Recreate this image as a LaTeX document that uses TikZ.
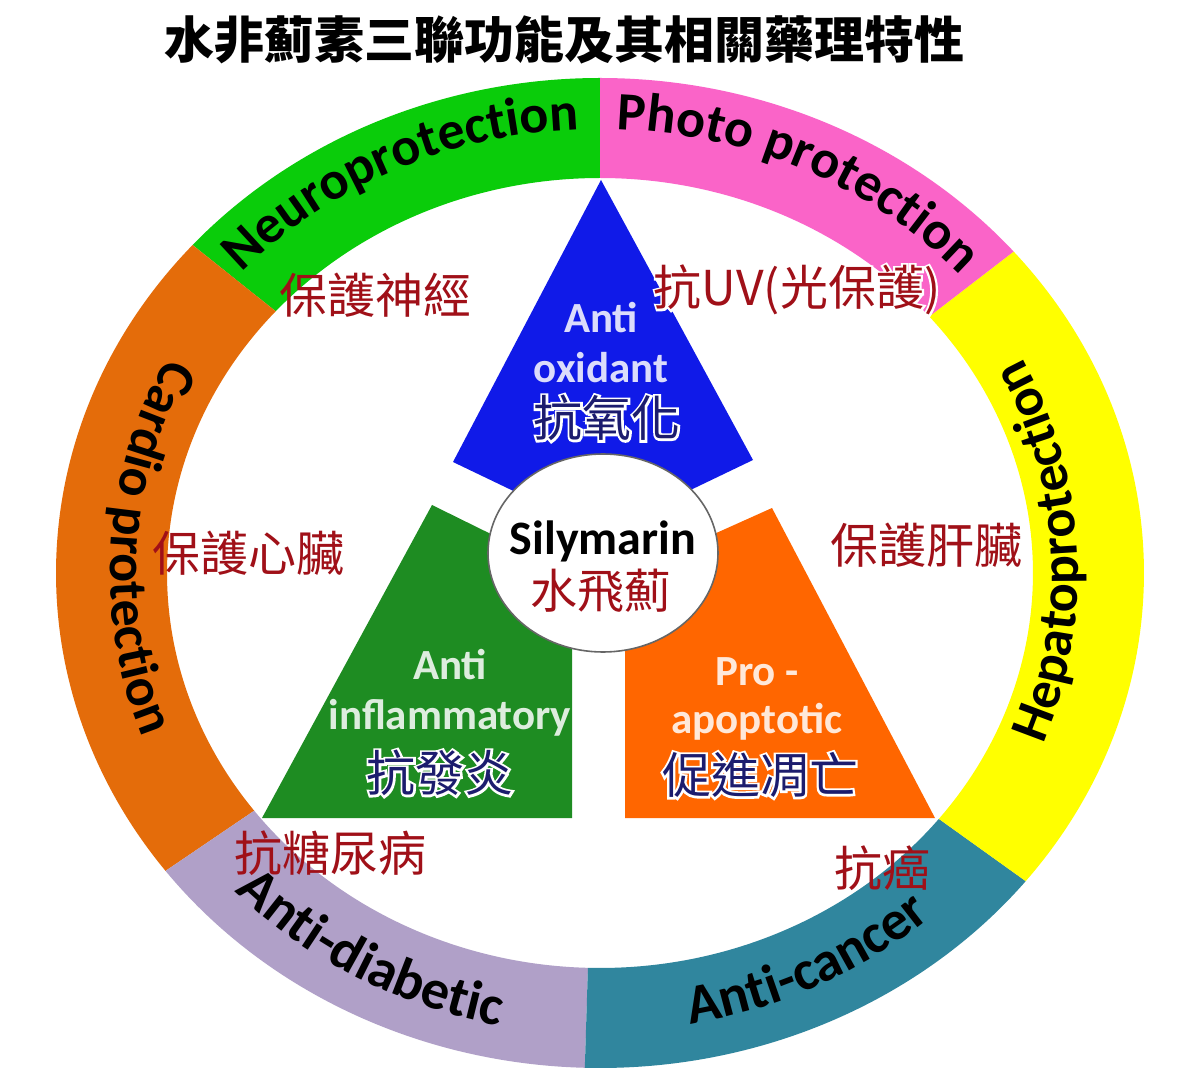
\documentclass[tikz,border=0pt]{standalone}
\usepackage{fontspec}
\setmainfont{Carlito}
\newfontfamily\cjk{Noto Sans CJK TC}
\newfontfamily\cjkalone[FakeBold=9]{Noto Sans CJK TC}
\usetikzlibrary{calc,shapes.geometric,decorations.text}

\definecolor{verdeanello}{RGB}{10,204,10}
\definecolor{rosa}{RGB}{250,100,200}
\definecolor{giallo}{RGB}{255,255,0}
\definecolor{ottanio}{RGB}{48,134,158}
\definecolor{lilla}{RGB}{176,160,200}
\definecolor{arancioanello}{RGB}{228,108,10}
\definecolor{blutri}{RGB}{16,26,232}
\definecolor{verdetri}{RGB}{30,140,34}
\definecolor{aranciotri}{RGB}{255,102,0}
\definecolor{rosso}{RGB}{160,16,24}
\definecolor{blunotte}{RGB}{28,28,110}

\newcommand{\ringfont}{\bfseries\fontsize{27pt}{27pt}\selectfont}
\newcommand{\ringfontb}{\bfseries\fontsize{28pt}{28pt}\selectfont}

% testo con bordo bianco
\newcommand{\contorno}[5]{%
  \node[text=white, font=\cjkalone\fontsize{#4}{#4}\selectfont] (#1-bordo) at (#2) {#5};
  \node[text=#3, font=\cjk\fontsize{#4}{#4}\selectfont] (#1) at (#2) {#5};
}

\begin{document}
\begin{tikzpicture}[x=0.5pt, y=0.5pt,
    every node/.style={inner sep=0pt},
    rossolab/.style={text=rosso, font=\cjk\fontsize{24pt}{24pt}\selectfont},
    bianco/.style={text=white, text opacity=0.85, font=\bfseries\fontsize{21.5pt}{21.5pt}\selectfont},
    lungo/.style={decorate, decoration={text along path, text align=center, text={|\ringfont|#1}}},
    lungob/.style={decorate, decoration={text along path, text align=center, text={|\ringfontb|#1}}}]
  \useasboundingbox[fill=white] (0,0) rectangle (1200,1078);
  \coordinate (O) at (600,505);

  % Titolo
  \node[font=\cjk\bfseries\fontsize{25pt}{25pt}\selectfont] (titolo) at (564,1038) {水非薊素三聯功能及其相關藥理特性};

  % Anello esterno
  \foreach \col/\da/\a in {verdeanello/90/138.5, arancioanello/138.5/217, lilla/217/268.4,
                            ottanio/268.4/321.5, giallo/321.5/400.5, rosa/400.5/450}
    \fill[\col] ($(O)+(\da:544 and 495)$) arc[start angle=\da, end angle=\a, x radius=544, y radius=495]
      -- ($(O)+(\a:433 and 395)$) arc[start angle=\a, end angle=\da, x radius=433, y radius=395] -- cycle;

  \path[lungo=Neuroprotection] ($(O)+(140:486 and 444)$) arc[start angle=140, end angle=90, x radius=486, y radius=444];
  \path[lungo=Photo protection] ($(O)+(90:486 and 444)$) arc[start angle=90, end angle=40, x radius=486, y radius=444];
  \path[lungo=Hepatoprotection] ($(O)+(-27:478 and 459)$) arc[start angle=-27, end angle=33, x radius=478, y radius=459];
  \path[lungo=Cardio protection] ($(O)+(150:490 and 459)$) arc[start angle=150, end angle=203, x radius=490, y radius=459];
  \path[lungob=Anti-diabetic] ($(O)+(222:504 and 462)$) arc[start angle=222, end angle=260, x radius=504, y radius=462];
  \path[lungob=Anti-cancer] ($(O)+(278:500 and 459)$) arc[start angle=278, end angle=314, x radius=500, y radius=459];

  % Triangoli
  \fill[blutri] (601,898) -- (753,618) -- (601,545) -- (453,616) -- cycle;
  \fill[verdetri] (432,573) -- (572,504) -- (572,260) -- (262,260) -- cycle;
  \fill[aranciotri] (772,570) -- (935,260) -- (625,260) -- (625,504) -- cycle;

  % Centro
  \node[ellipse, draw=black!60, line width=0.8pt, fill=white, minimum width=115pt, minimum height=99pt] (centro) at (603,525) {};
  \node[font=\bfseries\fontsize{24pt}{24pt}\selectfont] (sily) at (603,537) {Silymarin};
  \node[rossolab, font=\cjk\fontsize{23.5pt}{23.5pt}\selectfont] (shuifeiji) at (601,487) {水飛薊};

  % Etichette nei triangoli
  \node[bianco] (anti1) at (601,760) {Anti};
  \node[bianco] (oxid) at (601,710) {oxidant};
  \contorno{kangyang}{607,660}{blunotte}{24.5pt}{抗氧化}
  \node[bianco] (anti2) at (450,413) {Anti};
  \node[bianco] (infl) at (450,360) {inflammatory};
  \contorno{fayan}{440,305}{blunotte}{24.5pt}{抗發炎}
  \node[bianco] (pro) at (757,406) {Pro -};
  \node[bianco] (apop) at (757,356) {apoptotic};
  \contorno{diaowang}{760,303}{blunotte}{24.5pt}{促進凋亡}

  % Etichette rosse
  \node[rossolab] (shenjing) at (375,783) {保護神經};
  \contorno{uv}{797,788}{rosso}{24pt}{抗UV(光保護)}
  \node[rossolab] (xinzang) at (248,525) {保護心臟};
  \node[rossolab] (ganzang) at (926,533) {保護肝臟};
  \node[rossolab] (tangniao) at (330,225) {抗糖尿病};
  \node[rossolab] (aizheng) at (882,210) {抗癌};
\end{tikzpicture}
\end{document}
